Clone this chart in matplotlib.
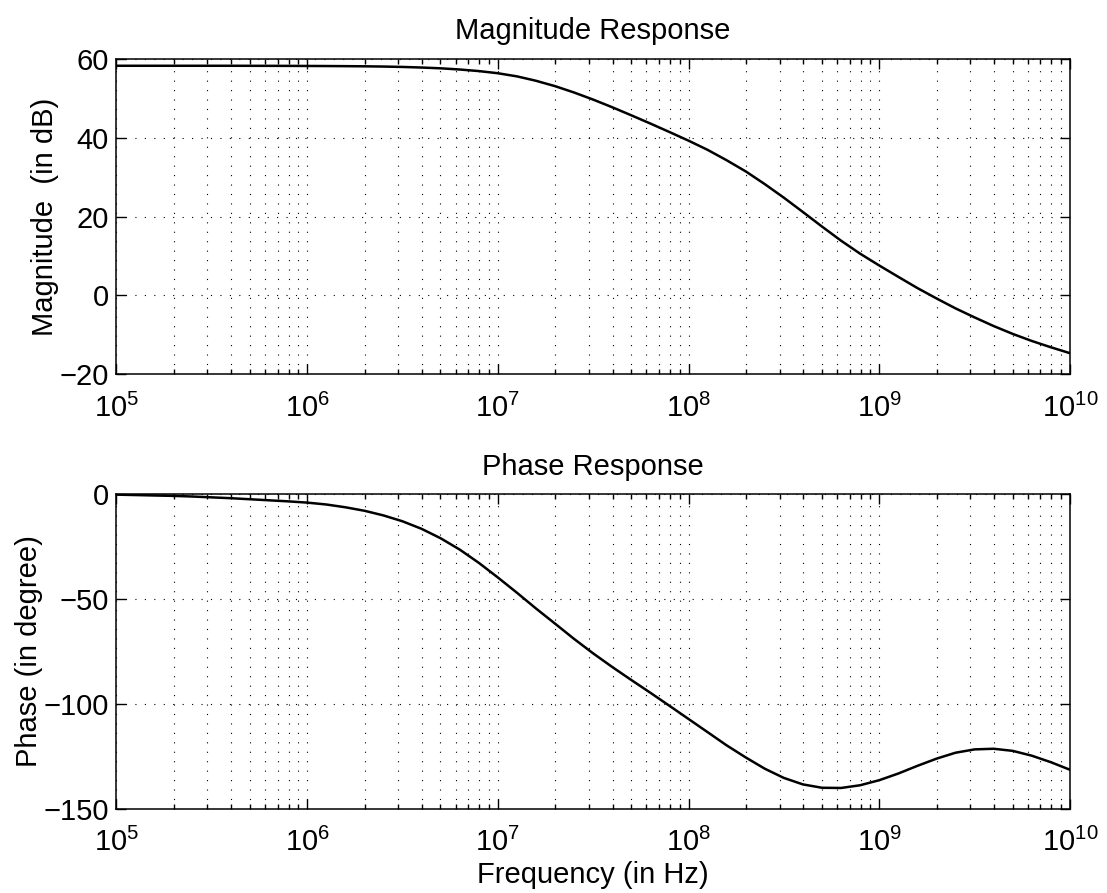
import matplotlib
matplotlib.use('Agg')
import matplotlib.pyplot as plt
from matplotlib.ticker import LogLocator, NullFormatter

# ---- data (frequency in Hz) ----
freq_hz = [
    1.00e5, 1.26e5, 1.58e5, 2.00e5, 2.51e5, 3.16e5, 3.98e5, 5.01e5, 6.31e5, 7.94e5,
    1.00e6, 1.26e6, 1.58e6, 2.00e6, 2.51e6, 3.16e6, 3.98e6, 5.01e6, 6.31e6, 7.94e6,
    1.00e7, 1.26e7, 1.58e7, 2.00e7, 2.51e7, 3.16e7, 3.98e7, 5.01e7, 6.31e7, 7.94e7,
    1.00e8, 1.26e8, 1.58e8, 2.00e8, 2.51e8, 3.16e8, 3.98e8, 5.01e8, 6.31e8, 7.94e8,
    1.00e9, 1.26e9, 1.58e9, 2.00e9, 2.51e9, 3.16e9, 3.98e9, 5.01e9, 6.31e9, 7.94e9,
    1.00e10,
]

magnitude_db = [
    58.4, 58.4, 58.4, 58.4, 58.4, 58.4, 58.4, 58.39, 58.38, 58.37,
    58.35, 58.33, 58.3, 58.26, 58.2, 58.1, 57.95, 57.75, 57.45, 57.05,
    56.5, 55.7, 54.6, 53.2, 51.6, 49.8, 47.85, 45.8, 43.7, 41.55,
    39.35, 37.0, 34.4, 31.5, 28.3, 24.85, 21.2, 17.5, 13.9, 10.6,
    7.6, 4.7, 1.9, -0.8, -3.3, -5.6, -7.8, -9.8, -11.6, -13.2,
    -14.7,
]

phase_deg = [
    -0.3, -0.5, -0.7, -0.9, -1.2, -1.6, -2.0, -2.5, -3.0, -3.5,
    -4.1, -5.0, -6.3, -8.0, -10.2, -13.0, -16.6, -21.1, -26.5, -32.8,
    -39.8, -47.1, -54.5, -61.9, -69.1, -76.0, -82.5, -88.7, -94.8, -101.0,
    -107.3, -113.6, -119.8, -125.7, -131.0, -135.4, -138.5, -140.1, -140.2, -138.9,
    -136.5, -133.3, -129.7, -126.2, -123.4, -121.8, -121.5, -122.5, -124.8, -127.9,
    -131.5,
]

mag_yticks = [-20, 0, 20, 40, 60]
phase_yticks = [-150, -100, -50, 0]

# ---- style ----
plt.rcParams['font.family'] = ['Liberation Sans', 'DejaVu Sans']
plt.rcParams['mathtext.fontset'] = 'custom'
plt.rcParams['mathtext.rm'] = 'Liberation Sans'
plt.rcParams['mathtext.it'] = 'Liberation Sans:italic'
plt.rcParams['mathtext.bf'] = 'Liberation Sans:bold'
plt.rcParams['lines.scale_dashes'] = False
plt.rcParams['axes.unicode_minus'] = True

FS = 21

fig = plt.figure(figsize=(11.07, 8.93), dpi=100)
ax1 = fig.add_axes([0.1052, 0.5812, 0.8613, 0.3522])
ax2 = fig.add_axes([0.1052, 0.0946, 0.8613, 0.3522])

grid_style = dict(color='black', linestyle=(0, (0.8, 6.0)), linewidth=0.8)


def style(ax, yticks):
    ax.set_xscale('log')
    ax.set_xlim(freq_hz[0], freq_hz[-1])
    ax.set_ylim(yticks[0], yticks[-1])
    ax.set_yticks(yticks)
    ax.xaxis.set_major_locator(LogLocator(base=10, numticks=20))
    ax.xaxis.set_minor_locator(LogLocator(base=10, subs=range(2, 10), numticks=20))
    ax.xaxis.set_minor_formatter(NullFormatter())
    ax.tick_params(which='both', direction='in', top=True, right=True,
                   width=1.0, color='black')
    ax.tick_params(which='major', length=7, labelsize=FS)
    ax.tick_params(axis='x', which='major', pad=14)
    ax.tick_params(axis='y', which='major', pad=5.5)
    ax.tick_params(which='minor', length=3.6)
    ax.grid(True, which='major', axis='both', **grid_style)
    ax.grid(True, which='minor', axis='x', **grid_style)
    for s in ax.spines.values():
        s.set_linewidth(1.1)
        s.set_color('black')
    ax.set_axisbelow(True)


ax1.plot(freq_hz, magnitude_db, color='black', linewidth=1.8)
style(ax1, mag_yticks)
ax1.set_title('Magnitude Response', fontsize=FS, pad=15)
ax1.set_ylabel('Magnitude  (in dB)', fontsize=FS, labelpad=0)

ax2.plot(freq_hz, phase_deg, color='black', linewidth=1.8)
style(ax2, phase_yticks)
ax2.set_title('Phase Response', fontsize=FS, pad=14)
ax2.set_ylabel('Phase (in degree)', fontsize=FS, labelpad=0)
ax2.set_xlabel('Frequency (in Hz)', fontsize=FS, labelpad=3)

fig.savefig('out.png', dpi=100, facecolor='white')
